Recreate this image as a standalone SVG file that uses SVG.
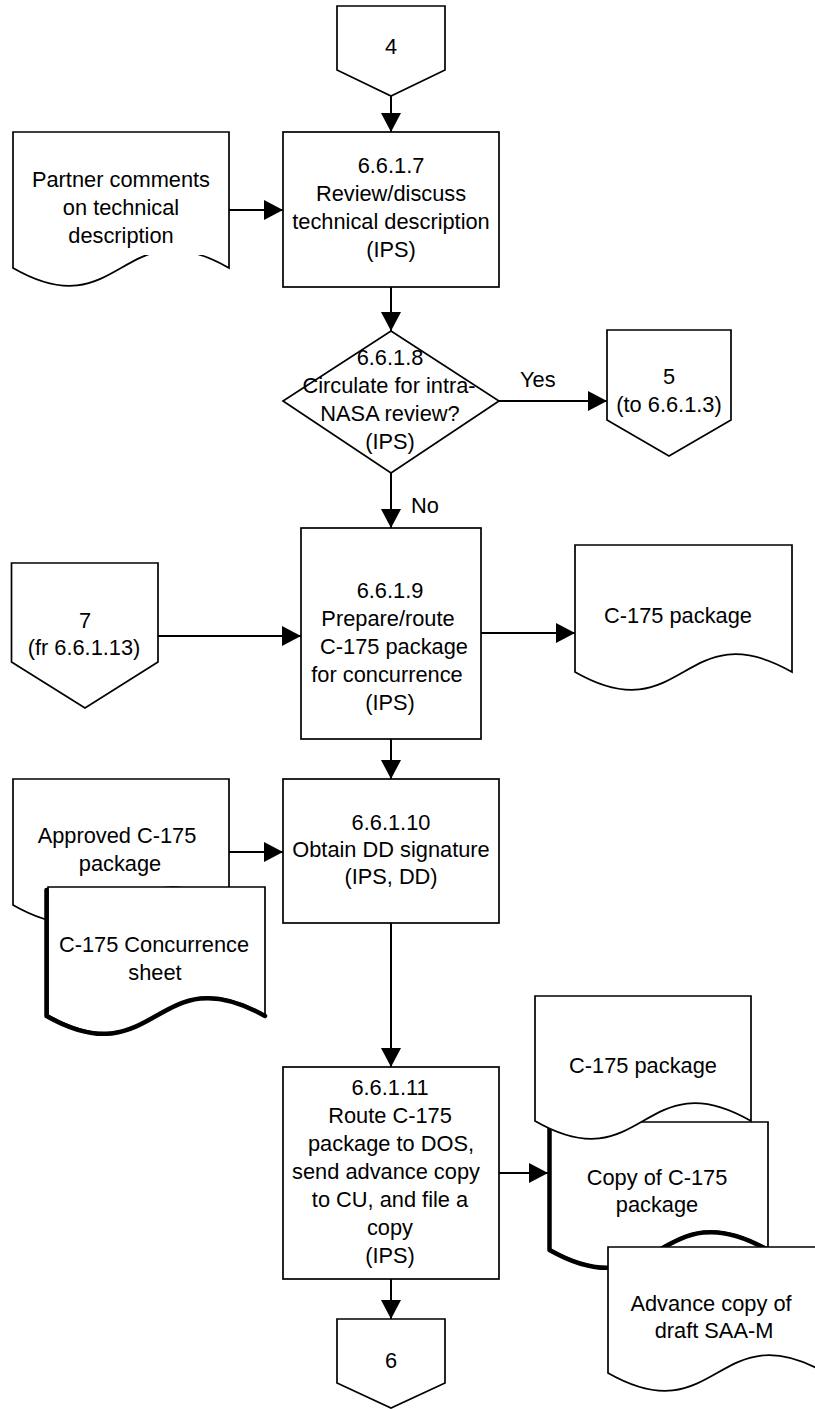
<svg xmlns="http://www.w3.org/2000/svg" width="815" height="1409" viewBox="0 0 815 1409">
  <style>
    .shape { fill: #fff; stroke: #000; stroke-width: 1.7; stroke-linejoin: miter; }
    .thick { fill: none; stroke: #000; stroke-width: 4.5; stroke-linecap: round; stroke-linejoin: round; }
    .edge { fill: none; stroke: #000; stroke-width: 2; }
    text { font-family: "Liberation Sans", Arial, sans-serif; font-size: 21.8px; fill: #000; text-anchor: middle; }
    .lbl { text-anchor: start; }
  </style>
  <defs>
    <marker id="arrow" markerUnits="userSpaceOnUse" markerWidth="20" markerHeight="20" refX="19" refY="10" orient="auto">
      <path d="M0,0 L19,10 L0,20 Z" fill="#000"/>
    </marker>
  </defs>
  <rect width="815" height="1409" fill="#fff"/>

  <!-- connectors -->
  <g id="connectors">
    <line class="edge" x1="391" y1="96" x2="391" y2="132" marker-end="url(#arrow)"/>
    <line class="edge" x1="229" y1="210" x2="283" y2="210" marker-end="url(#arrow)"/>
    <line class="edge" x1="391" y1="287" x2="391" y2="331" marker-end="url(#arrow)"/>
    <line class="edge" x1="499" y1="401" x2="607" y2="401" marker-end="url(#arrow)"/>
    <text class="lbl" x="520" y="387">Yes</text>
    <line class="edge" x1="391" y1="473" x2="391" y2="528" marker-end="url(#arrow)"/>
    <text class="lbl" x="411" y="513">No</text>
    <line class="edge" x1="158" y1="636" x2="301" y2="636" marker-end="url(#arrow)"/>
    <line class="edge" x1="481" y1="633" x2="575" y2="633" marker-end="url(#arrow)"/>
    <line class="edge" x1="391" y1="739" x2="391" y2="779" marker-end="url(#arrow)"/>
    <line class="edge" x1="229" y1="852" x2="283" y2="852" marker-end="url(#arrow)"/>
    <line class="edge" x1="391" y1="923" x2="391" y2="1067" marker-end="url(#arrow)"/>
    <line class="edge" x1="499" y1="1173" x2="548" y2="1173" marker-end="url(#arrow)"/>
    <line class="edge" x1="391" y1="1279" x2="391" y2="1319" marker-end="url(#arrow)"/>
  </g>

  <!-- off-page connector 4 -->
  <g id="conn-4">
    <polygon class="shape" points="337,6 445,6 445,70 391,96 337,70"/>
    <text x="391" y="54">4</text>
  </g>

  <!-- document: partner comments -->
  <g id="doc-partner">
    <path class="shape" d="M13,132 H229 V268 C121,206 121,330 13,268 Z"/>
    <rect x="141" y="244" width="65" height="11" fill="#fff"/>
    <text x="121" y="187">Partner comments</text>
    <text x="121" y="215">on technical</text>
    <text x="121" y="243">description</text>
  </g>

  <!-- process 6.6.1.7 -->
  <g id="step-6-6-1-7">
    <rect class="shape" x="283" y="132" width="216" height="155"/>
    <text x="391" y="173">6.6.1.7</text>
    <text x="391" y="201">Review/discuss</text>
    <text x="391" y="229">technical description</text>
    <text x="391" y="257">(IPS)</text>
  </g>

  <!-- decision 6.6.1.8 -->
  <g id="step-6-6-1-8">
    <polygon class="shape" points="391,331 499,401 391,473 283,401"/>
    <text x="390" y="365">6.6.1.8</text>
    <text x="389" y="393">Circulate for intra-</text>
    <text x="390" y="421">NASA review?</text>
    <text x="390" y="449">(IPS)</text>
  </g>

  <!-- off-page connector 5 -->
  <g id="conn-5">
    <polygon class="shape" points="607,330 731,330 731,420 669,456 607,420"/>
    <text x="669" y="384">5</text>
    <text x="669" y="412">(to 6.6.1.3)</text>
  </g>

  <!-- off-page connector 7 -->
  <g id="conn-7">
    <polygon class="shape" points="11.5,563 158,563 158,662 85,708 11.5,662"/>
    <text x="85" y="628">7</text>
    <text x="84" y="655">(fr 6.6.1.13)</text>
  </g>

  <!-- process 6.6.1.9 -->
  <g id="step-6-6-1-9">
    <rect class="shape" x="301" y="528" width="180" height="211"/>
    <text x="390" y="598">6.6.1.9</text>
    <text x="388" y="626">Prepare/route</text>
    <text x="394" y="654">C-175 package</text>
    <text x="387" y="682">for concurrence</text>
    <text x="390" y="710">(IPS)</text>
  </g>

  <!-- document: C-175 package -->
  <g id="doc-c175-a">
    <path class="shape" d="M575,545 H792 V672 C683.5,610 683.5,734 575,672 Z"/>
    <text x="678" y="623">C-175 package</text>
  </g>

  <!-- document: approved C-175 package -->
  <g id="doc-approved">
    <path class="shape" d="M13,779 H229 V905 C121,843 121,967 13,905 Z"/>
    <text x="117" y="843">Approved C-175</text>
    <text x="120" y="871">package</text>
  </g>

  <!-- document: concurrence sheet -->
  <g id="doc-concurrence">
    <path class="shape" d="M48,887 H265 V1015 C156.5,953 156.5,1077 48,1015 Z"/>
    <path class="thick" d="M46.5,890 V1016 C156,1078 156,954 265,1016"/>
    <text x="154" y="952">C-175 Concurrence</text>
    <text x="155" y="980">sheet</text>
  </g>

  <!-- process 6.6.1.10 -->
  <g id="step-6-6-1-10">
    <rect class="shape" x="283" y="779" width="216" height="144"/>
    <text x="391" y="830">6.6.1.10</text>
    <text x="391" y="857">Obtain DD signature</text>
    <text x="391" y="884">(IPS, DD)</text>
  </g>

  <!-- process 6.6.1.11 -->
  <g id="step-6-6-1-11">
    <rect class="shape" x="283" y="1067" width="216" height="212"/>
    <text x="390" y="1095">6.6.1.11</text>
    <text x="390" y="1123">Route C-175</text>
    <text x="391" y="1151">package to DOS,</text>
    <text x="386" y="1179">send advance copy</text>
    <text x="390" y="1207">to CU, and file a</text>
    <text x="390" y="1235">copy</text>
    <text x="390" y="1263">(IPS)</text>
  </g>

  <!-- document stack: copy of C-175 package -->
  <g id="doc-copy">
    <path class="shape" d="M550,1122 H768 V1249 C659,1187 659,1311 550,1249 Z"/>
    <path class="thick" d="M549.5,1124 V1250 C659,1312 659,1188 768,1250"/>
    <text x="657" y="1185">Copy of C-175</text>
    <text x="657" y="1212">package</text>
  </g>

  <!-- document stack: C-175 package -->
  <g id="doc-c175-b">
    <path class="shape" d="M535,996 H751 V1121 C643,1059 643,1183 535,1121 Z"/>
    <text x="643" y="1073">C-175 package</text>
  </g>

  <!-- document stack: advance copy -->
  <g id="doc-advance">
    <path class="shape" d="M608,1247 H826 V1373 C717,1311 717,1435 608,1373 Z"/>
    <text x="711" y="1311">Advance copy of</text>
    <text x="714" y="1338">draft SAA-M</text>
  </g>

  <!-- off-page connector 6 -->
  <g id="conn-6">
    <polygon class="shape" points="337,1319 445,1319 445,1383 391,1408 337,1383"/>
    <text x="391" y="1368">6</text>
  </g>
</svg>
